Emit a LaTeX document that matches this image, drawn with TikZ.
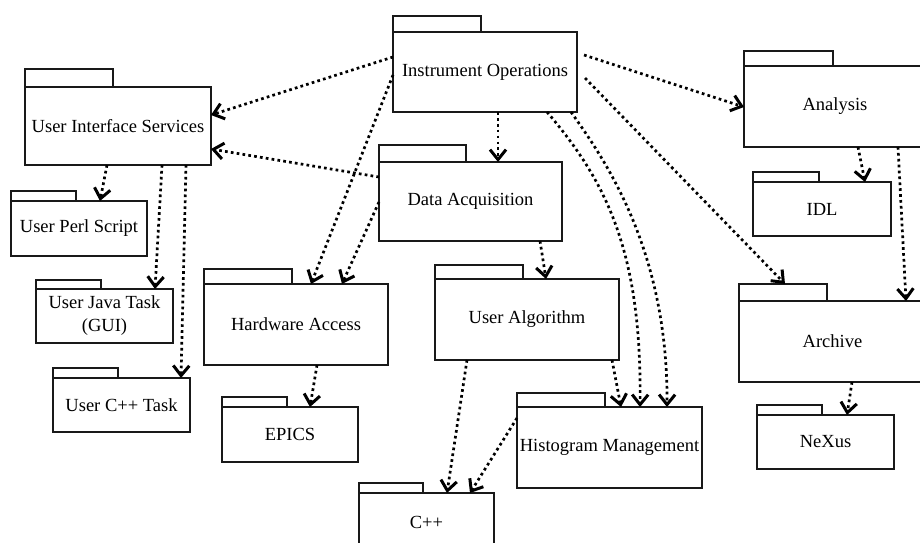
\documentclass[tikz,border=0pt]{standalone}
\usepackage{fontspec}
\setmainfont{Liberation Serif}
\usetikzlibrary{arrows.meta,calc}
\tikzset{
  pkgbody/.style={draw=black!90, line width=1.2pt, rectangle, anchor=north west,
    inner sep=0pt, outer sep=0pt, align=center,
    font=\fontsize{18.5pt}{23pt}\selectfont},
  pkgline/.style={draw=black!90, line width=1.2pt},
  dep/.style={line width=2.7pt, dash pattern=on 2.7pt off 3.2pt,
    -{Straight Barb[length=10pt,width=16pt,line width=3pt]}}
}
\newcommand\pkgbox[8]{%
  \node[pkgbody, minimum width=#4pt, minimum height=#5pt] (#1) at (#2,#3) {#8};
  \draw[pkgline] (#1.north west) rectangle ++(#6,-#7);
}
\begin{document}
\begin{tikzpicture}[x=1pt,y=-1pt]
\useasboundingbox (0,0) rectangle (920,542);
% packages: name, x, y(top of body), w, h, tab w, tab h, text
\pkgbox{io}{393}{32}{184}{80}{88}{16}{Instrument Operations}
\pkgbox{uis}{25}{87}{186}{78}{88}{18}{User Interface Services}
\pkgbox{perl}{11}{201}{136}{55}{65}{10}{User Perl Script}
\pkgbox{daq}{379}{162}{183}{79}{87}{17}{Data Acquisition}
\pkgbox{ana}{744}{66}{182}{81}{89}{15}{Analysis}
\pkgbox{idl}{753}{182}{138}{54}{66}{10}{IDL}
\pkgbox{hw}{204}{284}{184}{81}{88}{15}{Hardware Access}
\pkgbox{java}{36}{289}{137}{54}{65}{9}{User Java Task\\(GUI)}
\pkgbox{cpptask}{53}{378}{137}{54}{65}{10}{User C++ Task}
\pkgbox{epics}{222}{407}{136}{55}{65}{10}{EPICS}
\pkgbox{cpp}{359}{493}{135}{58}{64}{10}{C++}
\pkgbox{ualg}{435}{279}{184}{81}{88}{14}{User Algorithm}
\pkgbox{hist}{517}{407}{185}{81}{88}{14}{Histogram Management}
\pkgbox{arch}{739}{301}{187}{81}{88}{17}{Archive}
\pkgbox{nexus}{757}{415}{137}{54}{65}{10}{NeXus}
% dependencies
\draw[dep] ($(io.north west)+(0,25)$) -- ($(uis.north east)+(0,28)$);
\draw[dep] ($(daq.north west)+(0,15)$) -- ($(uis.north east)+(0,62)$);
\draw[dep] ($(io.north west)+(0,43)$) -- ($(hw.north west)+(107,0)$);
\draw[dep] ($(daq.north west)+(0,40)$) -- ($(hw.north west)+(138,0)$);
\draw[dep] ($(io.south west)+(105,0)$) -- ($(daq.north west)+(119,0)$);
\draw[dep] ($(io.north east)+(7,23)$) -- ($(ana.north west)+(0,41)$);
\draw[dep] ($(io.north east)+(8,46)$) -- ($(arch.north west)+(46,-17)$);
\draw[dep] ($(io.south west)+(154,0)$) .. controls (605,180) and (642,250) .. ($(hist.north west)+(123,0)$);
\draw[dep] ($(io.south west)+(178,0)$) .. controls (605,160) and (668,250) .. ($(hist.north west)+(150,0)$);
\draw[dep] ($(ualg.south east)+(-7,0)$) -- ($(hist.north west)+(104,0)$);
\draw[dep] ($(daq.south west)+(161,0)$) -- ($(ualg.north west)+(111,0)$);
\draw[dep] ($(ualg.south west)+(32,0)$) -- ($(cpp.north west)+(88,0)$);
\draw[dep] ($(hist.north west)+(0,11)$) -- ($(cpp.north west)+(111,0)$);
\draw[dep] ($(uis.south west)+(82,0)$) -- ($(perl.north west)+(89,0)$);
\draw[dep] ($(uis.south west)+(137,0)$) -- ($(java.north west)+(119,0)$);
\draw[dep] ($(uis.south west)+(161,0)$) -- ($(cpptask.north west)+(128,0)$);
\draw[dep] ($(hw.south west)+(113,0)$) -- ($(epics.north west)+(88,0)$);
\draw[dep] ($(ana.south west)+(114,0)$) -- ($(idl.north west)+(112,0)$);
\draw[dep] ($(ana.south west)+(154,0)$) -- ($(arch.north west)+(167,0)$);
\draw[dep] ($(arch.south west)+(113,0)$) -- ($(nexus.north west)+(90,0)$);
\end{tikzpicture}
\end{document}
